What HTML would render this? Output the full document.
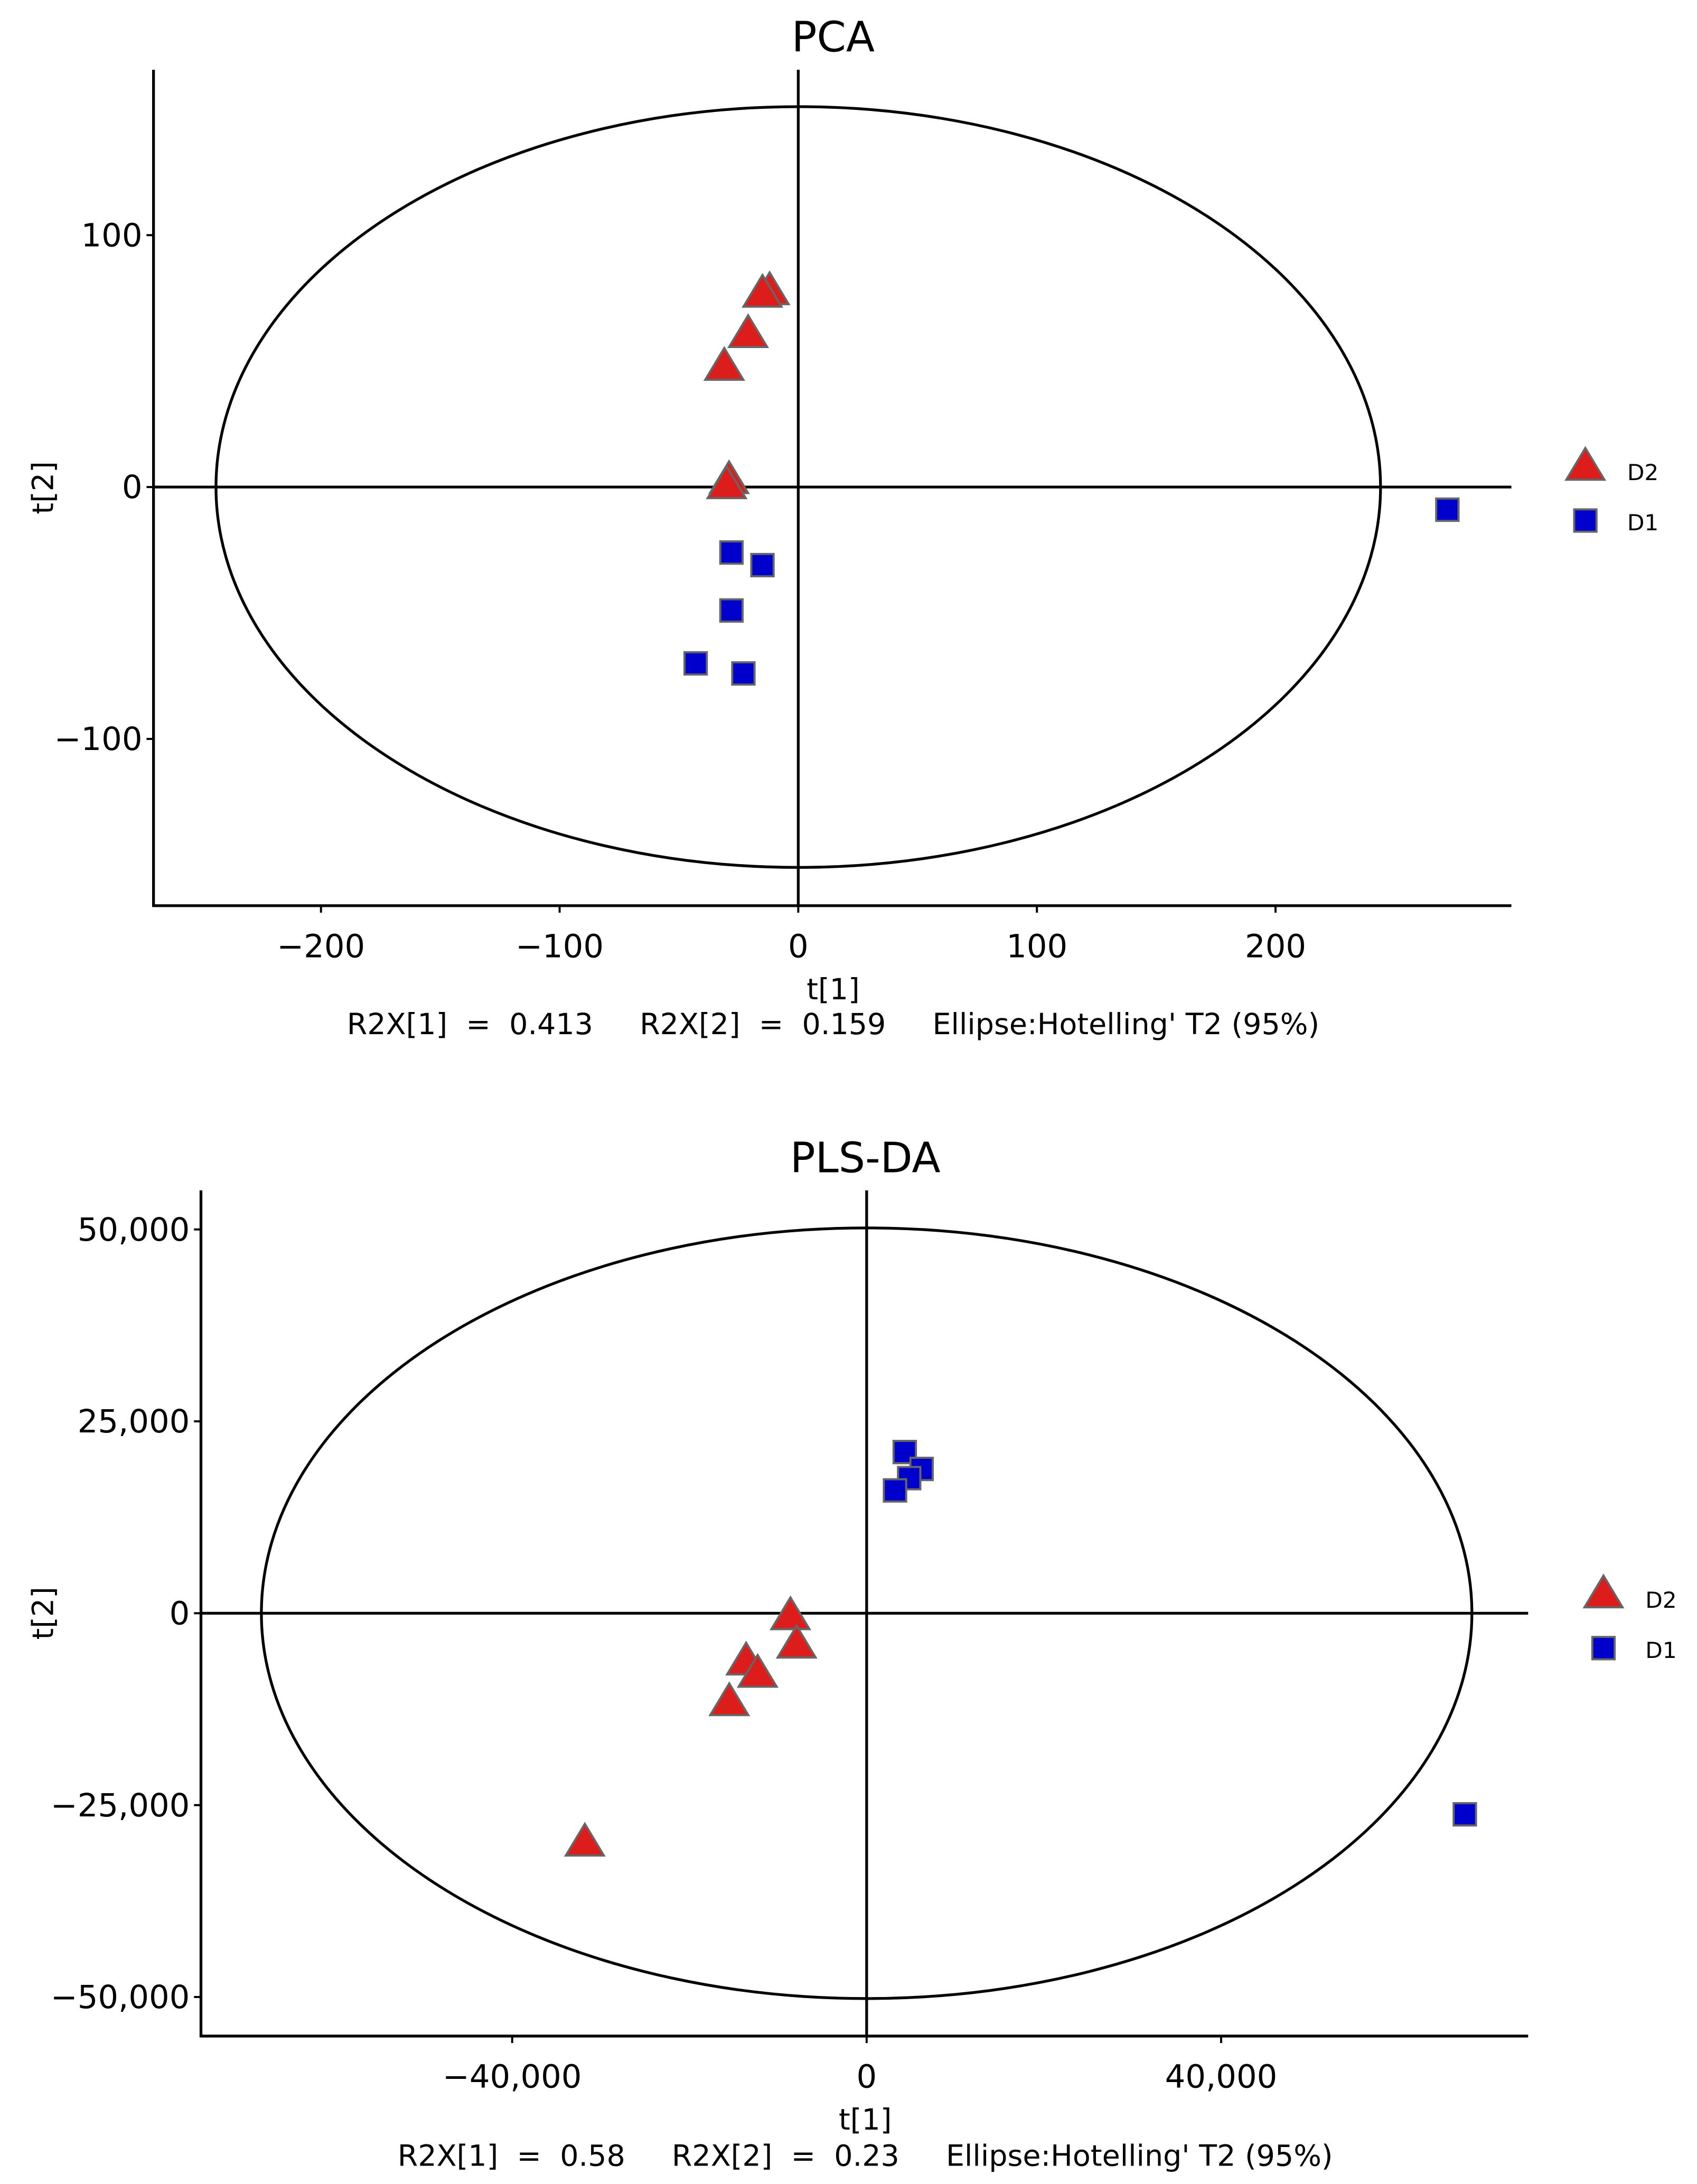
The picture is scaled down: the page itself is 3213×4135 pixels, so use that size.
<!DOCTYPE html>
<html><head><meta charset="utf-8"><style>html,body{margin:0;padding:0;background:#fff}svg{display:block}text.cap{white-space:pre}</style></head>
<body>
<svg id="chart" xmlns="http://www.w3.org/2000/svg" width="3213" height="4135" viewBox="0 0 1216 1565" preserveAspectRatio="none" font-family="'DejaVu Sans','Liberation Sans',sans-serif"></svg>
<script>
// PCA data
const pcaD2x = [-12, -15, -21, -31, -29, -30];
const pcaD2y = [78, 77, 61, 48, 3, 1];
const pcaD1x = [-28, -15, -28, -43, -23, 272];
const pcaD1y = [-26, -31, -49, -70, -74, -9];
const pcaXTicks = [-200, -100, 0, 100, 200];
const pcaYTicks = [100, 0, -100];
const pcaXTickLabels = ["\u2212200", "\u2212100", "0", "100", "200"];
const pcaYTickLabels = ["100", "0", "\u2212100"];
const pcaEllipse = [244, 151];
// PLS-DA data
const plsD2x = [-8600, -7900, -13600, -12300, -15500, -31800];
const plsD2y = [-300, -4000, -6200, -7800, -11500, -29800];
const plsD1x = [4300, 6200, 4800, 3200, 67500];
const plsD1y = [21000, 18800, 17600, 16000, -26200];
const plsXTicks = [-40000, 0, 40000];
const plsYTicks = [50000, 25000, 0, -25000, -50000];
const plsXTickLabels = ["\u221240,000", "0", "40,000"];
const plsYTickLabels = ["50,000", "25,000", "0", "\u221225,000", "\u221250,000"];
const plsEllipse = [68300, 50200];

const NS = "http://www.w3.org/2000/svg";
const svg = document.getElementById("chart");
function mk(tag, attrs, parent, text) {
  const e = document.createElementNS(NS, tag);
  for (const k in attrs) e.setAttribute(k, attrs[k]);
  if (text !== undefined) e.textContent = text;
  (parent || svg).appendChild(e);
  return e;
}

function panel(cfg) {
  const g = mk("g", {});
  
  
  const X = v => cfg.x0 + v * cfg.kx;
  const Y = v => cfg.y0 - v * cfg.ky;
  const t = mk("text", {x: cfg.titleX, y: cfg.titleY, "font-size": 30, "text-anchor": "middle"}, g, cfg.title);
  
  
  const ax = mk("path", {d: `M${cfg.left},${cfg.top}V${cfg.bottom}H${cfg.right}`, stroke: "#000", "stroke-width": 2, fill: "none"}, g);
  
  
  const el = mk("ellipse", {cx: X(0), cy: Y(0), rx: cfg.ell[0] * cfg.kx, ry: cfg.ell[1] * cfg.ky, fill: "none", stroke: "#000", "stroke-width": 2}, g);
  
  
  const hz = mk("line", {x1: cfg.left, x2: cfg.right, y1: Y(0), y2: Y(0), stroke: "#000", "stroke-width": 2}, g);
  
  
  const vz = mk("line", {x1: X(0), x2: X(0), y1: cfg.top, y2: cfg.bottom, stroke: "#000", "stroke-width": 2}, g);
  
  
  cfg.xt.forEach((v, i) => {
    mk("line", {x1: X(v), x2: X(v), y1: cfg.bottom, y2: cfg.bottom + 5, stroke: "#000", "stroke-width": 1.5}, g);
    const tx = mk("text", {x: X(v), y: cfg.bottom + 37, "font-size": 23, "text-anchor": "middle"}, g, cfg.xl[i]);
    
    
  });
  cfg.yt.forEach((v, i) => {
    mk("line", {x1: cfg.left - 5, x2: cfg.left, y1: Y(v), y2: Y(v), stroke: "#000", "stroke-width": 1.5}, g);
    const ty = mk("text", {x: cfg.left - 8, y: Y(v) + 8, "font-size": 23, "text-anchor": "end"}, g, cfg.yl[i]);
    
    
  });
  const xt = mk("text", {x: cfg.titleX, y: cfg.xTitleY, "font-size": 21, "text-anchor": "middle"}, g, "t[1]");
  
  
  const yc = (cfg.top + cfg.bottom) / 2;
  const yt = mk("text", {x: 38, y: yc, "font-size": 21, "text-anchor": "middle", transform: `rotate(-90 38 ${yc})`}, g, "t[2]");
  
  
  const cap = mk("text", {x: cfg.titleX, y: cfg.capY, "font-size": 21, "text-anchor": "middle", "class": "cap"}, g, cfg.cap);
  
  
  const tri = (cx, cy, s) => `M${cx},${cy - s}L${cx + s * 1.05},${cy + s * 0.75}L${cx - s * 1.05},${cy + s * 0.75}Z`;
  cfg.d1x.forEach((v, i) => {
    const r = mk("rect", {x: X(v) - 8, y: Y(cfg.d1y[i]) - 8, width: 16, height: 16, fill: "#0000cc", stroke: "#666", "stroke-width": 1.5}, g);
    
    
  });
  cfg.d2x.forEach((v, i) => {
    const p = mk("path", {d: tri(X(v), Y(cfg.d2y[i]), 13), fill: "#dd1c1c", stroke: "#666", "stroke-width": 1.5}, g);
    
    
  });
  const lg = mk("g", {}, g);
  
  
  const l1 = mk("path", {d: tri(cfg.legX, cfg.legY, 13), fill: "#dd1c1c", stroke: "#666", "stroke-width": 1.5}, lg);
  
  
  const lt1 = mk("text", {x: cfg.legX + 30, y: cfg.legY + 10, "font-size": 16}, lg, "D2");
  
  
  const l2 = mk("rect", {x: cfg.legX - 8, y: cfg.legY + 31, width: 16, height: 16, fill: "#0000cc", stroke: "#666", "stroke-width": 1.5}, lg);
  
  
  const lt2 = mk("text", {x: cfg.legX + 30, y: cfg.legY + 46, "font-size": 16}, lg, "D1");
  
  
}

panel({name: "pca-panel", title: "PCA", titleX: 597, titleY: 37,
  left: 110, right: 1083, top: 50, bottom: 649, x0: 572, y0: 349, kx: 1.71, ky: 1.805,
  xt: pcaXTicks, xl: pcaXTickLabels, yt: pcaYTicks, yl: pcaYTickLabels, ell: pcaEllipse,
  d1x: pcaD1x, d1y: pcaD1y, d2x: pcaD2x, d2y: pcaD2y,
  xTitleY: 716, capY: 741, cap: "R2X[1]  =  0.413     R2X[2]  =  0.159     Ellipse:Hotelling' T2 (95%)",
  legX: 1136, legY: 334});
panel({name: "plsda-panel", title: "PLS-DA", titleX: 620, titleY: 840,
  left: 144, right: 1095, top: 853, bottom: 1459, x0: 621, y0: 1156, kx: 254 / 40000, ky: 137.5 / 25000,
  xt: plsXTicks, xl: plsXTickLabels, yt: plsYTicks, yl: plsYTickLabels, ell: plsEllipse,
  d1x: plsD1x, d1y: plsD1y, d2x: plsD2x, d2y: plsD2y,
  xTitleY: 1526, capY: 1552, cap: "R2X[1]  =  0.58     R2X[2]  =  0.23     Ellipse:Hotelling' T2 (95%)",
  legX: 1149, legY: 1142});
</script>
</body></html>
